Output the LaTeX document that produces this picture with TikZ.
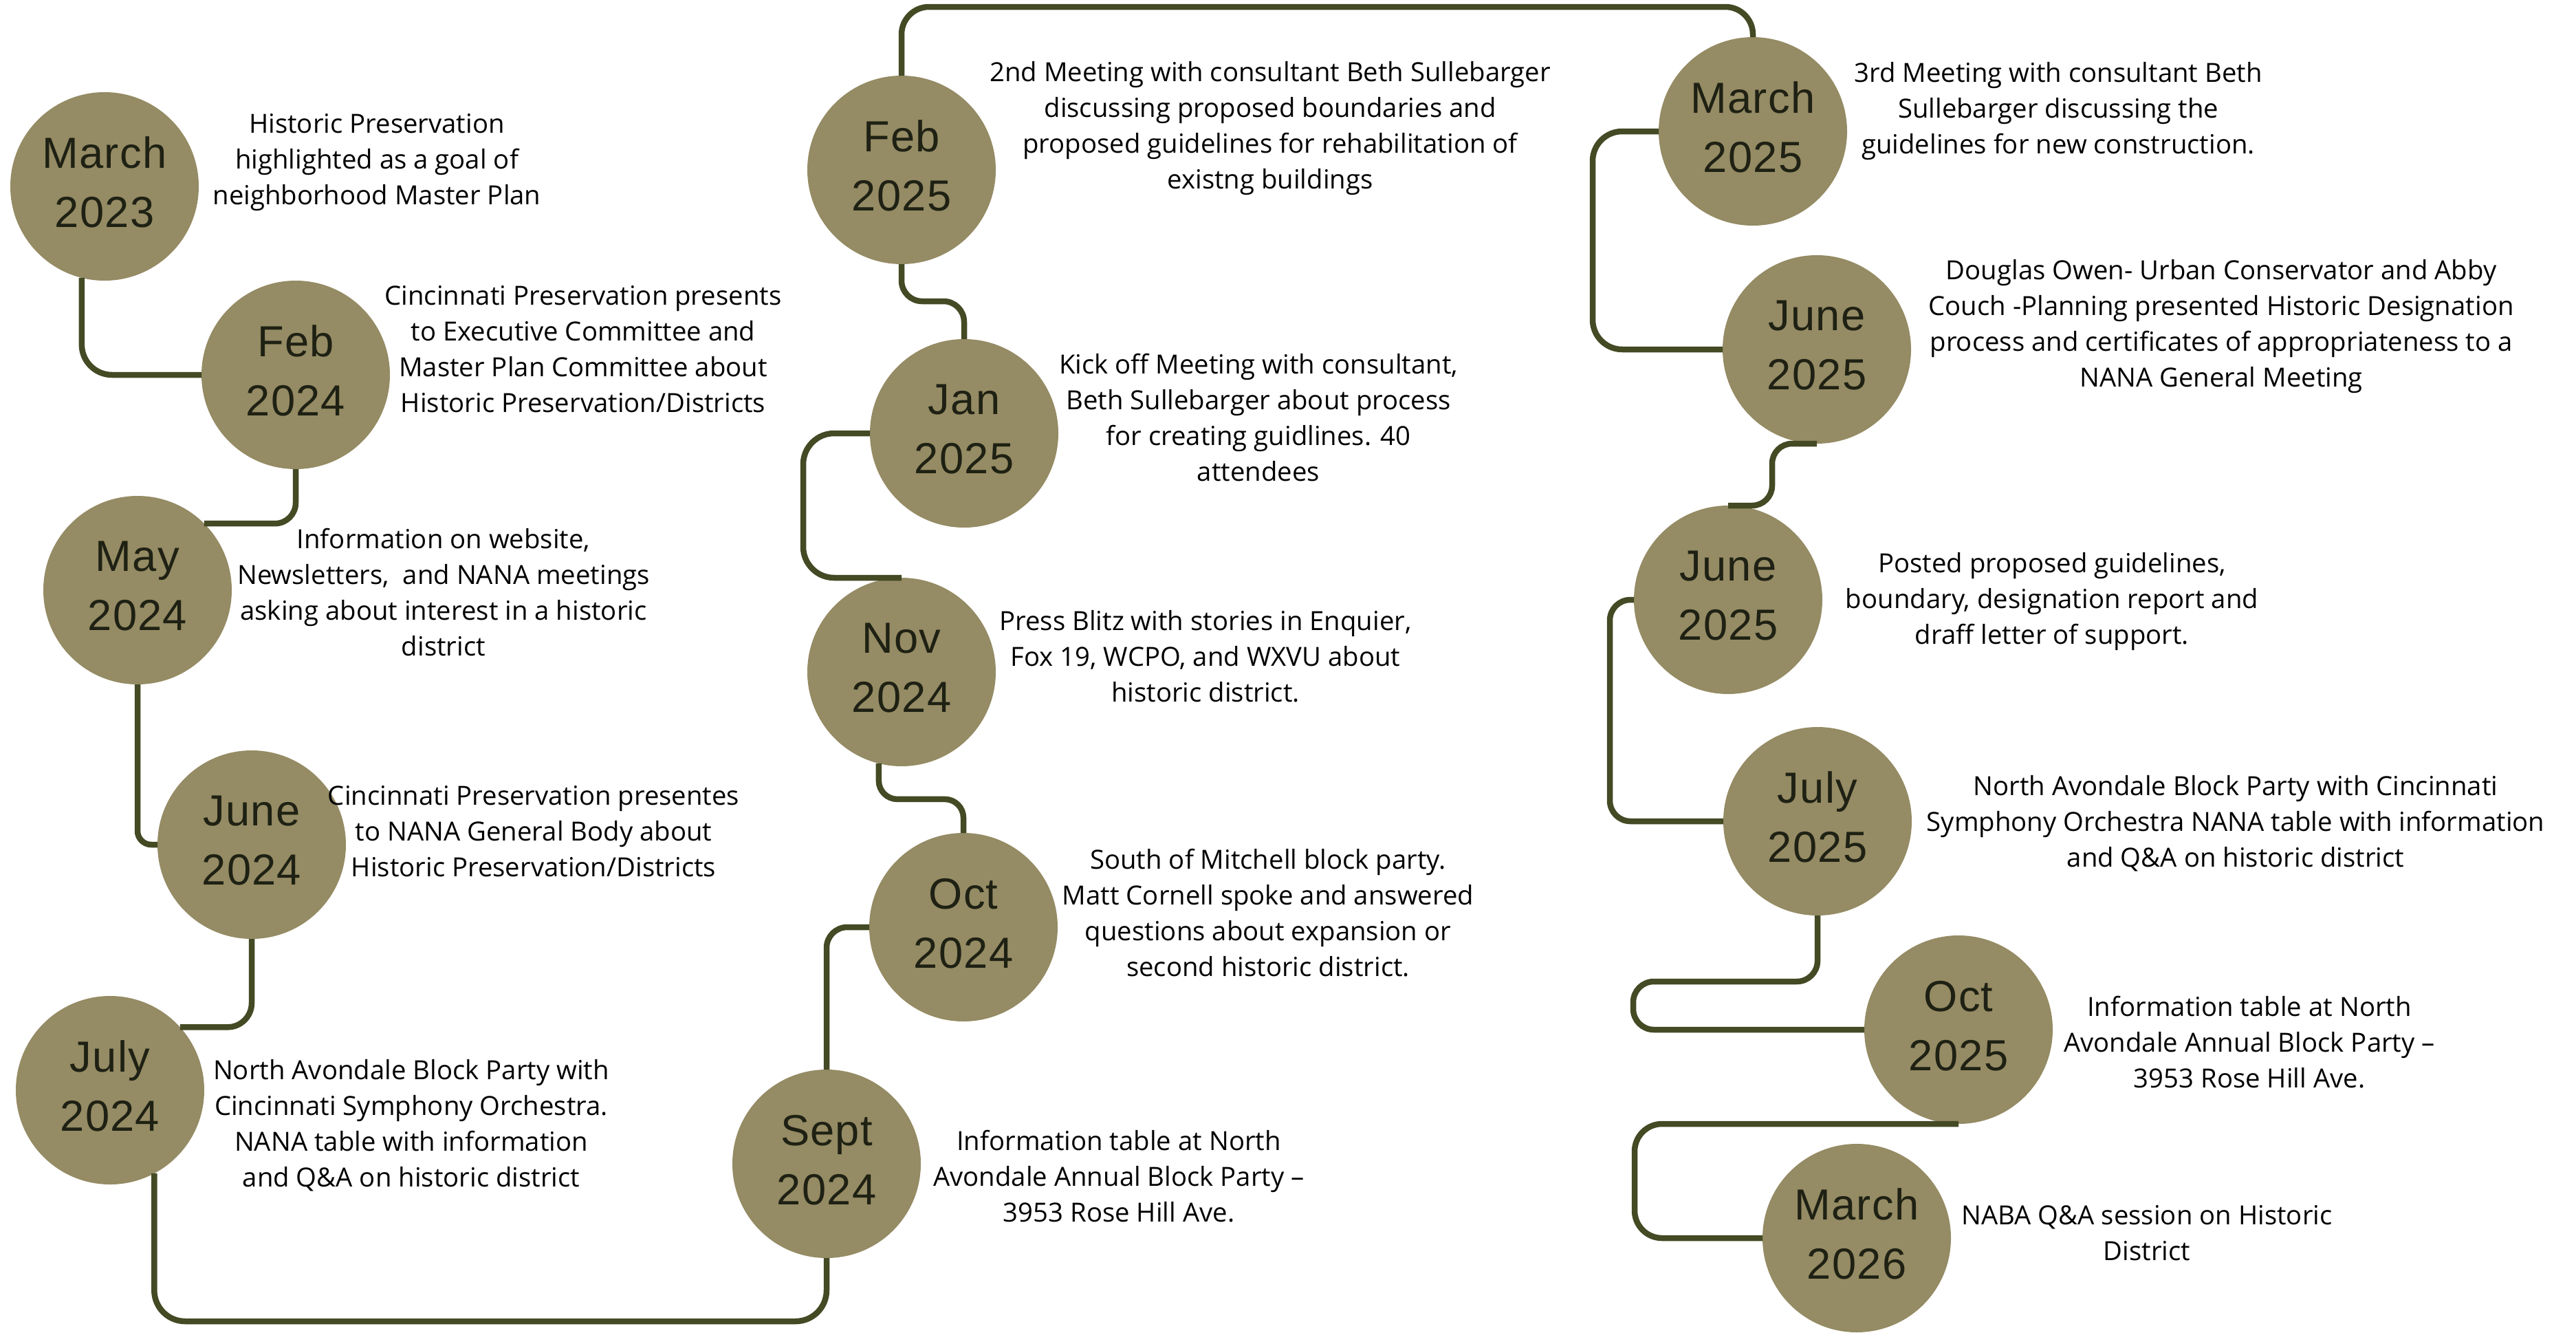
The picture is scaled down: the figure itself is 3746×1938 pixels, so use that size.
\documentclass[tikz,border=0pt]{standalone}
\usepackage{fontspec}
\setmainfont{Open Sans}
\newfontfamily\datefont{Liberation Sans}[LetterSpace=2]
\usetikzlibrary{calc}
\definecolor{dotfill}{HTML}{958B64}
\definecolor{pathline}{HTML}{434A24}
\definecolor{datetext}{HTML}{1E2113}

\begin{document}
\begin{tikzpicture}[x=0.1mm, y=-0.1mm, date node/.style={circle, fill=dotfill, text=datetext, minimum size=27.4mm, inner sep=0pt, outer sep=0pt, text depth=1.2mm, align=center, font=\datefont\fontsize{18}{24.5}\selectfont}, note node/.style={align=center, inner sep=0pt, font=\fontsize{10.9}{14.8}\selectfont}, link/.style={draw=pathline, line width=0.85mm, rounded corners=3mm}]

  \useasboundingbox (0,0) rectangle (3746,1938);

  % dates
  \node[date node] (mar23) at (152,271) {March\\2023};
  \node[date node] (feb24) at (430,545) {Feb\\2024};
  \node[date node] (may24) at (200,858) {May\\2024};
  \node[date node] (jun24) at (366,1228) {June\\2024};
  \node[date node] (jul24) at (160,1585) {July\\2024};
  \node[date node] (sep24) at (1202,1692) {Sept\\2024};
  \node[date node] (oct24) at (1401,1348) {Oct\\2024};
  \node[date node] (nov24) at (1311,977) {Nov\\2024};
  \node[date node] (jan25) at (1402,630) {Jan\\2025};
  \node[date node] (feb25) at (1311,247) {Feb\\2025};
  \node[date node] (mar25) at (2549,191) {March\\2025};
  \node[date node] (jun25a) at (2642,508) {June\\2025};
  \node[date node] (jun25b) at (2513,872) {June\\2025};
  \node[date node] (jul25) at (2643,1194) {July\\2025};
  \node[date node] (oct25) at (2848,1497) {Oct\\2025};
  \node[date node] (mar26) at (2700,1800) {March\\2026};

  % notes
  \node[note node] (t1) at (548,236) {Historic Preservation\\highlighted as a goal of\\neighborhood Master Plan};
  \node[note node] (t2) at (848,508) {Cincinnati Preservation presents\\to Executive Committee and\\Master Plan Committee about\\Historic Preservation/Districts};
  \node[note node] (t3) at (645,861) {Information on website,\\Newsletters,~ and NANA meetings\\asking about interest in a historic\\district};
  \node[note node] (t4) at (776,1209) {Cincinnati Preservation presentes\\to NANA General Body about\\Historic Preservation/Districts};
  \node[note node] (t5) at (598,1636) {North Avondale Block Party with\\Cincinnati Symphony Orchestra.\\NANA table with information\\and Q\&A on historic district};
  \node[note node] (t6) at (1627,1710) {Information table at North\\Avondale Annual Block Party –\\3953 Rose Hill Ave.};
  \node[note node] (t7) at (1844,1327) {South of Mitchell block party.\\Matt Cornell spoke and answered\\questions about expansion or\\second historic district.};
  \node[note node] (t8) at (1753,954) {Press Blitz with stories in Enquier,\\Fox 19, WCPO, and WXVU about\\historic district.};
  \node[note node] (t9) at (1830,607) {Kick off Meeting with consultant,\\Beth Sullebarger about process\\for creating guidlines. 40\\attendees};
  \node[note node] (t10) at (1847,187) {2nd Meeting with consultant Beth Sullebarger\\discussing proposed boundaries and\\proposed guidelines for rehabilitation of\\existng buildings};
  \node[note node] (t11) at (2993,162) {3rd Meeting with consultant Beth\\Sullebarger discussing the\\guidelines for new construction.};
  \node[note node] (t12) at (3230,475) {Douglas Owen- Urban Conservator and Abby\\Couch -Planning presented Historic Designation\\process and certificates of appropriateness to a\\NANA General Meeting};
  \node[note node] (t13) at (2984,875) {Posted proposed guidelines,\\boundary, designation report and\\draff letter of support.};
  \node[note node] (t14) at (3251,1197) {North Avondale Block Party with Cincinnati\\Symphony Orchestra NANA table with information\\and Q\&A on historic district};
  \node[note node] (t15) at (3271,1515) {Information table at North\\Avondale Annual Block Party –\\3953 Rose Hill Ave.};
  \node[note node] (t16) at (3122,1793) {NABA Q\&A session on Historic\\District};

  % timeline
  \draw[link, rounded corners=4.4mm] (mar23.256) |- (feb24.west);
  \draw[link] (feb24.south) |- (may24.45);
  \draw[link, rounded corners=2mm] (may24.south) |- (jun24.west);
  \draw[link, rounded corners=3.5mm] (jun24.south) |- (jul24.42);
  \draw[link, rounded corners=4.5mm] (jul24.-62) |- ($(sep24.south)+(0,92)$) -- (sep24.south);
  \draw[link] (sep24.north) |- (oct24.west);
  \draw[link, rounded corners=2.7mm] (oct24.north) |- ($(nov24.256)+(0,52)$) -- (nov24.256);
  \draw[link, rounded corners=4.5mm] (nov24.north) -| ($(jan25.west)+(-97,0)$) -- (jan25.west);
  \draw[link] (jan25.north) |- ($(feb25.south)+(0,54)$) -- (feb25.south);
  \draw[link, rounded corners=4mm] (feb25.north) |- ($(mar25.north)+(0,-44)$) -- (mar25.north);
  \draw[link, rounded corners=4.3mm] (mar25.west) -| ($(jun25a.west)+(-189,0)$) -- (jun25a.west);
  \draw[link, rounded corners=2.9mm] (jun25a.south) -| ($(jun25b.north)+(64,0)$) -- (jun25b.north);
  \draw[link] (jun25b.west) -| ($(jul25.west)+(-165,0)$) -- (jul25.west);
  \draw[link] (jul25.south) |- ($(oct25.west)+(-336,-70)$) |- (oct25.west);
  \draw[link, rounded corners=4mm] (oct25.south) -| ($(mar26.west)+(-186,0)$) -- (mar26.west);
\end{tikzpicture}
\end{document}
